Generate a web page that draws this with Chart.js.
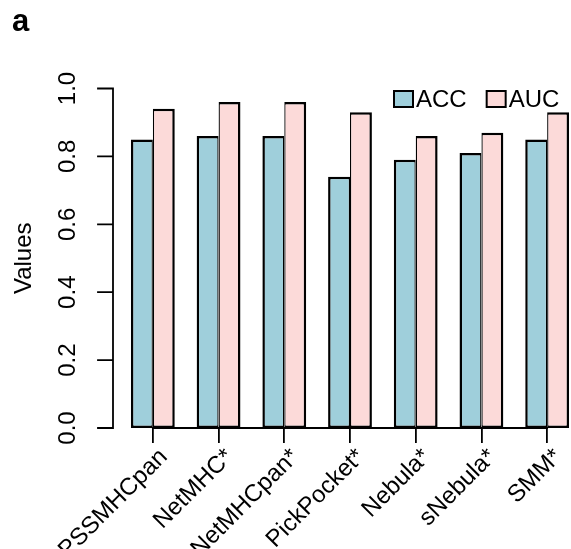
<!DOCTYPE html>
<html>
<head>
<meta charset="utf-8">
<script src="https://cdn.jsdelivr.net/npm/chart.js@4.4.0/dist/chart.umd.min.js"></script>
<style>
  html, body { margin: 0; padding: 0; background: #fff; overflow: hidden; }
  #wrap { position: relative; width: 600px; height: 549px; }
</style>
</head>
<body>
<div id="wrap"><canvas id="chart" width="600" height="549"></canvas></div>
<script>
// ===== DATA =====
const methods = ["PSSMHCpan", "NetMHC*", "NetMHCpan*", "PickPocket*", "Nebula*", "sNebula*", "SMM*"];
const accValues = [0.85, 0.86, 0.86, 0.74, 0.79, 0.81, 0.85];
const aucValues = [0.94, 0.96, 0.96, 0.93, 0.86, 0.87, 0.93];
const yTicks = [0, 0.2, 0.4, 0.6, 0.8, 1.0];
const seriesNames = ["ACC", "AUC"];
const seriesColors = ["#9fcfdb", "#fcdad9"];

const FONT = "'Liberation Sans', Arial, Helvetica, sans-serif";
const FONT_SIZE = 24;
const AXIS_LW = 1.8;

// ===== AXES / LEGEND / PANEL LETTER (R base-graphics look) =====
const baseGraphics = {
  id: "baseGraphics",
  afterDraw(chart) {
    const { ctx, chartArea, scales: { x, y } } = chart;
    ctx.save();
    ctx.strokeStyle = "#000";
    ctx.lineWidth = AXIS_LW;
    ctx.lineCap = "square";

    // y axis line + ticks
    const ax = chartArea.left - 7;
    ctx.beginPath();
    ctx.moveTo(ax, y.getPixelForValue(yTicks[0]));
    ctx.lineTo(ax, y.getPixelForValue(yTicks[yTicks.length - 1]));
    yTicks.forEach(v => {
      const py = y.getPixelForValue(v);
      ctx.moveTo(ax, py);
      ctx.lineTo(ax - 15, py);
    });
    // x axis line from first to last tick
    const by = y.getPixelForValue(0);
    ctx.moveTo(x.getPixelForValue(0), by);
    ctx.lineTo(x.getPixelForValue(methods.length - 1), by);
    ctx.stroke();

    // legend
    ctx.font = FONT_SIZE + "px " + FONT;
    ctx.textBaseline = "middle";
    ctx.textAlign = "left";
    let lx = 394;
    const ly = 91;
    seriesNames.forEach((name, i) => {
      ctx.fillStyle = seriesColors[i];
      ctx.fillRect(lx, ly, 19, 16);
      ctx.lineWidth = 2;
      ctx.strokeRect(lx, ly, 19, 16);
      ctx.fillStyle = "#000";
      ctx.fillText(name, lx + 22, ly + 9);
      lx += 22 + ctx.measureText(name).width + 20;
    });

    // panel letter
    ctx.font = "bold 31px " + FONT;
    ctx.textBaseline = "alphabetic";
    ctx.fillText("a", 12, 31);
    ctx.restore();
  }
};

new Chart(document.getElementById("chart"), {
  type: "bar",
  data: {
    labels: methods,
    datasets: [
      {
        label: seriesNames[0],
        data: accValues,
        backgroundColor: seriesColors[0],
        borderColor: "#000",
        borderWidth: { top: 2.5, left: 2.5, bottom: 2.5, right: 1.3 },
        borderSkipped: false
      },
      {
        label: seriesNames[1],
        data: aucValues,
        backgroundColor: seriesColors[1],
        borderColor: "#000",
        borderWidth: { top: 2.5, left: 1.3, bottom: 2.5, right: 2.5 },
        borderSkipped: false
      }
    ]
  },
  options: {
    responsive: false,
    animation: false,
    devicePixelRatio: 1,
    layout: { padding: { top: 88.5, right: 20, left: 0, bottom: 0 } },
    datasets: { bar: { categoryPercentage: 2 / 3, barPercentage: 1 } },
    plugins: { legend: { display: false }, tooltip: { enabled: false }, title: { display: false } },
    scales: {
      x: {
        type: "category",
        offset: true,
        border: { display: false },
        grid: {
          display: true, drawOnChartArea: false, drawTicks: true,
          tickLength: 15, offset: false, color: "#000", lineWidth: AXIS_LW
        },
        ticks: {
          autoSkip: false, minRotation: 45, maxRotation: 45,
          padding: 0, labelOffset: 11, color: "#000", font: { family: FONT, size: FONT_SIZE }
        },
        afterFit(scale) { scale.height = 121; }
      },
      y: {
        min: 0,
        max: 1,
        border: { display: false },
        grid: { display: false, drawTicks: false },
        afterBuildTicks(scale) { scale.ticks = yTicks.map(v => ({ value: v })); },
        ticks: {
          minRotation: 90, maxRotation: 90, crossAlign: "center",
          padding: 35, color: "#000", font: { family: FONT, size: FONT_SIZE },
          callback: v => Number(v).toFixed(1)
        },
        title: {
          display: true, text: "Values", color: "#000",
          font: { family: FONT, size: FONT_SIZE }, padding: { top: 10, bottom: 0 }
        },
        afterFit(scale) { scale.width = 120; }
      }
    }
  },
  plugins: [baseGraphics]
});
</script>
</body>
</html>
